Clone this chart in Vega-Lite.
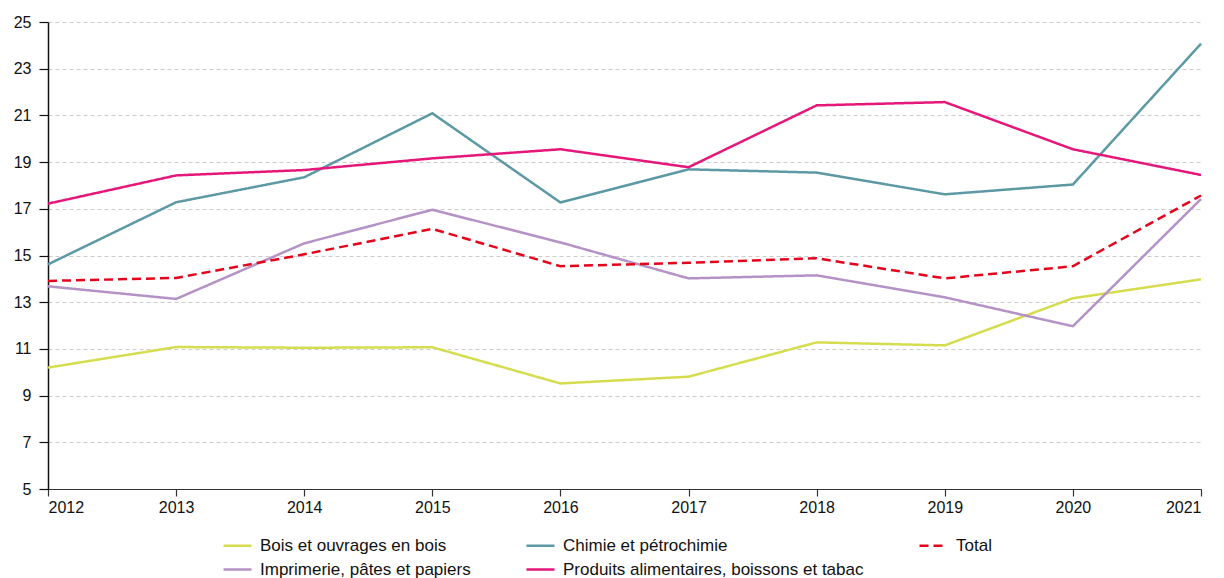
{
  "$schema": "https://vega.github.io/schema/vega-lite/v6.json",
  "width": 1153,
  "height": 467,
  "autosize": {"type": "none"},
  "padding": {"left": 48, "top": 22, "right": 23, "bottom": 89},
  "background": "white",
  "config": {
    "view": {"stroke": null},
    "font": "Liberation Sans",
    "axis": {"labelFont": "Liberation Sans", "labelFontSize": 16, "labelColor": "#111", "title": null}
  },
  "data": {
    "values": [
      {"year": 2012, "series": "Bois et ouvrages en bois", "value": 10.2},
      {"year": 2013, "series": "Bois et ouvrages en bois", "value": 11.08},
      {"year": 2014, "series": "Bois et ouvrages en bois", "value": 11.05},
      {"year": 2015, "series": "Bois et ouvrages en bois", "value": 11.07},
      {"year": 2016, "series": "Bois et ouvrages en bois", "value": 9.52},
      {"year": 2017, "series": "Bois et ouvrages en bois", "value": 9.81},
      {"year": 2018, "series": "Bois et ouvrages en bois", "value": 11.28},
      {"year": 2019, "series": "Bois et ouvrages en bois", "value": 11.15},
      {"year": 2020, "series": "Bois et ouvrages en bois", "value": 13.17},
      {"year": 2021, "series": "Bois et ouvrages en bois", "value": 13.98},
      {"year": 2012, "series": "Chimie et pétrochimie", "value": 14.62},
      {"year": 2013, "series": "Chimie et pétrochimie", "value": 17.28},
      {"year": 2014, "series": "Chimie et pétrochimie", "value": 18.35},
      {"year": 2015, "series": "Chimie et pétrochimie", "value": 21.09},
      {"year": 2016, "series": "Chimie et pétrochimie", "value": 17.27},
      {"year": 2017, "series": "Chimie et pétrochimie", "value": 18.69},
      {"year": 2018, "series": "Chimie et pétrochimie", "value": 18.55},
      {"year": 2019, "series": "Chimie et pétrochimie", "value": 17.62},
      {"year": 2020, "series": "Chimie et pétrochimie", "value": 18.04},
      {"year": 2021, "series": "Chimie et pétrochimie", "value": 24.07},
      {"year": 2012, "series": "Imprimerie, pâtes et papiers", "value": 13.68},
      {"year": 2013, "series": "Imprimerie, pâtes et papiers", "value": 13.14},
      {"year": 2014, "series": "Imprimerie, pâtes et papiers", "value": 15.52},
      {"year": 2015, "series": "Imprimerie, pâtes et papiers", "value": 16.96},
      {"year": 2016, "series": "Imprimerie, pâtes et papiers", "value": 15.56},
      {"year": 2017, "series": "Imprimerie, pâtes et papiers", "value": 14.02},
      {"year": 2018, "series": "Imprimerie, pâtes et papiers", "value": 14.15},
      {"year": 2019, "series": "Imprimerie, pâtes et papiers", "value": 13.21},
      {"year": 2020, "series": "Imprimerie, pâtes et papiers", "value": 11.97},
      {"year": 2021, "series": "Imprimerie, pâtes et papiers", "value": 17.42},
      {"year": 2012, "series": "Produits alimentaires, boissons et tabac", "value": 17.22},
      {"year": 2013, "series": "Produits alimentaires, boissons et tabac", "value": 18.43},
      {"year": 2014, "series": "Produits alimentaires, boissons et tabac", "value": 18.66},
      {"year": 2015, "series": "Produits alimentaires, boissons et tabac", "value": 19.16},
      {"year": 2016, "series": "Produits alimentaires, boissons et tabac", "value": 19.55},
      {"year": 2017, "series": "Produits alimentaires, boissons et tabac", "value": 18.78},
      {"year": 2018, "series": "Produits alimentaires, boissons et tabac", "value": 21.43},
      {"year": 2019, "series": "Produits alimentaires, boissons et tabac", "value": 21.57},
      {"year": 2020, "series": "Produits alimentaires, boissons et tabac", "value": 19.55},
      {"year": 2021, "series": "Produits alimentaires, boissons et tabac", "value": 18.45},
      {"year": 2012, "series": "Total", "value": 13.91},
      {"year": 2013, "series": "Total", "value": 14.04},
      {"year": 2014, "series": "Total", "value": 15.05},
      {"year": 2015, "series": "Total", "value": 16.14},
      {"year": 2016, "series": "Total", "value": 14.54},
      {"year": 2017, "series": "Total", "value": 14.69},
      {"year": 2018, "series": "Total", "value": 14.88},
      {"year": 2019, "series": "Total", "value": 14.02},
      {"year": 2020, "series": "Total", "value": 14.54},
      {"year": 2021, "series": "Total", "value": 17.57}
    ]
  },
  "mark": {"type": "line", "strokeWidth": 2.5, "strokeJoin": "miter"},
  "encoding": {
    "x": {
      "field": "year", "type": "quantitative",
      "scale": {"domain": [2012, 2021], "nice": false, "zero": false},
      "axis": {
        "values": [2012, 2013, 2014, 2015, 2016, 2017, 2018, 2019, 2020, 2021],
        "format": "d", "grid": false, "tickSize": 7, "labelPadding": 3,
        "domainColor": "#333", "tickColor": "#333", "domainWidth": 1.2, "tickWidth": 1.2
      }
    },
    "y": {
      "field": "value", "type": "quantitative",
      "scale": {"domain": [5, 25], "nice": false, "zero": false},
      "axis": {
        "values": [5, 7, 9, 11, 13, 15, 17, 19, 21, 23, 25],
        "grid": true, "gridColor": "#cccccc", "gridDash": [4, 3], "gridWidth": 1,
        "tickSize": 9, "labelPadding": 8,
        "domainColor": "#111", "tickColor": "#111", "domainWidth": 1.5, "tickWidth": 1.2
      }
    },
    "color": {
      "field": "series", "type": "nominal",
      "scale": {
        "domain": ["Bois et ouvrages en bois", "Chimie et pétrochimie", "Total", "Imprimerie, pâtes et papiers", "Produits alimentaires, boissons et tabac"],
        "range": ["#d5dd4f", "#5d98a5", "#e3051b", "#b592c6", "#e5177a"]
      },
      "legend": {
        "title": null, "orient": "none", "legendX": 174, "legendY": 508,
        "direction": "horizontal",
        "columns": 3, "columnPadding": 50, "rowPadding": -7,
        "symbolType": "stroke", "symbolSize": 784, "symbolStrokeWidth": 2.5,
        "labelFont": "Liberation Sans", "labelFontSize": 17, "labelColor": "#111",
        "labelLimit": 400, "labelOffset": 7
      }
    },
    "strokeDash": {
      "field": "series", "type": "nominal",
      "scale": {
        "domain": ["Bois et ouvrages en bois", "Chimie et pétrochimie", "Total", "Imprimerie, pâtes et papiers", "Produits alimentaires, boissons et tabac"],
        "range": [[1, 0], [1, 0], [9, 5], [1, 0], [1, 0]]
      },
      "legend": {
        "title": null, "orient": "none", "legendX": 174, "legendY": 508,
        "direction": "horizontal",
        "columns": 3, "columnPadding": 50, "rowPadding": -7,
        "symbolType": "stroke", "symbolSize": 784, "symbolStrokeWidth": 2.5,
        "labelFont": "Liberation Sans", "labelFontSize": 17, "labelColor": "#111",
        "labelLimit": 400, "labelOffset": 7
      }
    }
  }
}
